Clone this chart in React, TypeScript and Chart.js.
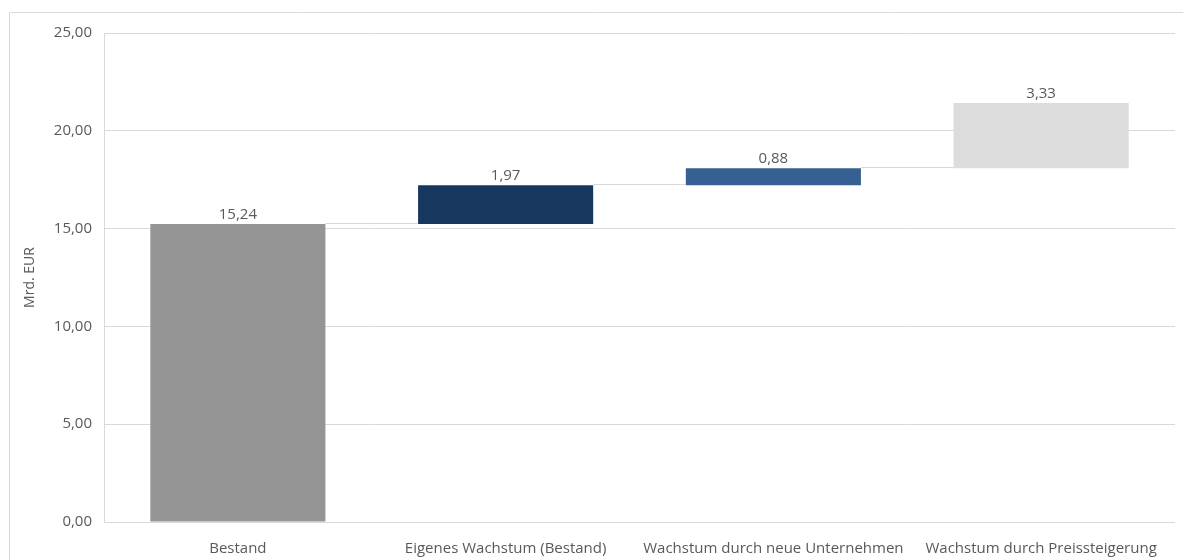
import React, { useEffect, useRef } from "react";
import { Chart, registerables } from "chart.js";

Chart.register(...registerables);

const categories = [
  "Bestand",
  "Eigenes Wachstum (Bestand)",
  "Wachstum durch neue Unternehmen",
  "Wachstum durch Preissteigerung",
];
const deltas = [15.24, 1.97, 0.88, 3.33];
const barColors = ["#959595", "#17375E", "#376092", "#DCDCDC"];
const yMin = 0;
const yMax = 25;
const yStep = 5;
const yAxisTitle = "Mrd. EUR";

const fmt = (v: number) => v.toFixed(2).replace(".", ",");

const GRID = "#D9D9D9";
const TEXT = "#595959";

export default function App() {
  const ref = useRef<HTMLCanvasElement | null>(null);

  useEffect(() => {
    if (!ref.current) return;
    const ranges: [number, number][] = [];
    let acc = 0;
    deltas.forEach((d) => {
      ranges.push([acc, acc + d]);
      acc += d;
    });

    const framePlugin = {
      id: "frame",
      beforeDraw(chart: any) {
        const ctx = chart.ctx;
        ctx.save();
        ctx.strokeStyle = GRID;
        ctx.lineWidth = 1;
        ctx.beginPath();
        ctx.moveTo(9.5, chart.height);
        ctx.lineTo(9.5, 12.5);
        ctx.lineTo(chart.width, 12.5);
        ctx.stroke();
        ctx.restore();
      },
    };

    const waterfallPlugin = {
      id: "waterfall",
      afterDatasetsDraw(chart: any) {
        const ctx = chart.ctx;
        const meta = chart.getDatasetMeta(0);
        const yScale = chart.scales.y;
        ctx.save();
        ctx.strokeStyle = GRID;
        ctx.lineWidth = 1;
        for (let i = 0; i < meta.data.length - 1; i++) {
          const el = meta.data[i];
          const nx = meta.data[i + 1];
          const y = Math.round(yScale.getPixelForValue(ranges[i][1])) - 0.5;
          ctx.beginPath();
          ctx.moveTo(el.x + el.width / 2, y);
          ctx.lineTo(nx.x - nx.width / 2, y);
          ctx.stroke();
        }
        ctx.fillStyle = TEXT;
        ctx.font = "15px 'Open Sans', sans-serif";
        ctx.textAlign = "center";
        ctx.textBaseline = "alphabetic";
        meta.data.forEach((el: any, i: number) => {
          const top = Math.min(el.y, el.base);
          ctx.fillText(fmt(deltas[i]), el.x, top - 5);
        });
        ctx.restore();
      },
    };

    const chart = new Chart(ref.current, {
      type: "bar",
      data: {
        labels: categories,
        datasets: [
          {
            data: ranges as any,
            backgroundColor: barColors,
            borderWidth: 0,
            barPercentage: 0.654,
            categoryPercentage: 1,
          },
        ],
      },
      options: {
        animation: false,
        responsive: false,
        events: [],
        layout: { padding: { left: 10, right: 8, top: 33, bottom: 0 } },
        plugins: {
          legend: { display: false },
          tooltip: { enabled: false },
        },
        scales: {
          x: {
            grid: { display: false },
            border: { display: false },
            ticks: {
              color: TEXT,
              font: { family: "'Open Sans', sans-serif", size: 15 },
              padding: 10,
              maxRotation: 0,
              autoSkip: false,
            },
            afterFit(scale: any) {
              scale.height = 38;
            },
          },
          y: {
            min: yMin,
            max: yMax,
            grid: { color: GRID, drawTicks: false },
            border: { display: true, color: GRID },
            ticks: {
              stepSize: yStep,
              color: TEXT,
              font: { family: "'Open Sans', sans-serif", size: 15 },
              padding: 12,
              callback: (v: any) => fmt(Number(v)),
            },
            title: {
              display: true,
              text: yAxisTitle,
              color: TEXT,
              font: { family: "'Open Sans', sans-serif", size: 14 },
              padding: { top: 12, bottom: 0 },
            },
            afterFit(scale: any) {
              scale.width = 94;
            },
          },
        },
      },
      plugins: [framePlugin, waterfallPlugin],
    });
    return () => chart.destroy();
  }, []);

  return (
    <canvas
      ref={ref}
      width={1183}
      height={560}
      style={{ position: "fixed", left: 0, top: 0, width: 1183, height: 560 }}
    />
  );
}
